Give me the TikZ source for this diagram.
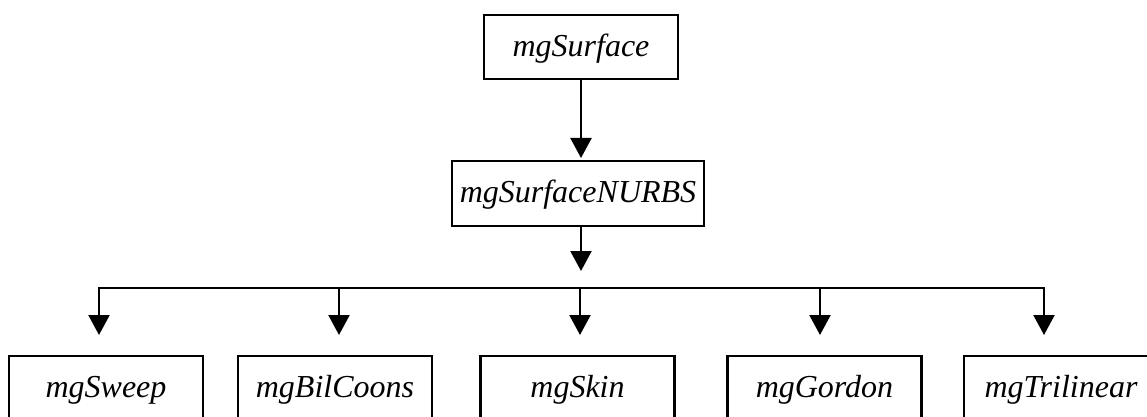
\documentclass[tikz,border=0pt]{standalone}
\usepackage{fontspec}
\setmainfont{Liberation Serif}
\usetikzlibrary{arrows.meta}
\begin{document}
\begin{tikzpicture}[x=0.5pt,y=-0.5pt,
  cls/.style={draw,line width=1.1pt,inner sep=0pt,
    font=\fontsize{16}{18}\selectfont\itshape},
  wideA/.style={cls,minimum width=97pt,minimum height=32pt,
    text height=0.94em,text depth=0em},
  wideB/.style={cls,minimum width=126pt,minimum height=32.5pt,
    text height=0.92em,text depth=0em},
  leaf/.style={cls,minimum width=97pt,minimum height=32.5pt,
    text height=0.91em,text depth=0em},
  link/.style={line width=1.1pt},
  inherit/.style={link,-{Triangle[width=10.5pt,length=10pt]}}]
\useasboundingbox (0,0) rectangle (1147,417);
\clip (0,0) rectangle (1147,417);
% class hierarchy
\node[wideA] (base) at (581,47) {mgSurface};
\node[wideB] (nurbs) at (578,193.5) {mgSurfaceNURBS};
\node[leaf] (sweep) at (106,388.5) {mgSweep};
\node[leaf] (bil) at (335,388.5) {mgBilCoons};
\node[leaf] (skin) at (577.5,388.5) {mgSkin};
\node[leaf] (gordon) at (824.5,388.5) {mgGordon};
\node[leaf] (tri) at (1061,388.5) {mgTrilinear};
% bus taps and arrow ends
\coordinate (split) at (581,271);
\coordinate (t1) at (99,288);
\coordinate (t2) at (339,288);
\coordinate (t3) at (580,288);
\coordinate (t4) at (820,288);
\coordinate (t5) at (1044,288);
\coordinate (e1) at (99,335);
\coordinate (e2) at (339,335);
\coordinate (e3) at (580,335);
\coordinate (e4) at (820,335);
\coordinate (e5) at (1044,335);
% connectors
\draw[inherit] (base.south -| split) -- (581,158);
\draw[inherit] (nurbs.south -| split) -- (split);
\draw[link,line cap=rect] (t1) -- (t5);
\foreach \i in {1,...,5} \draw[inherit] (t\i) -- (e\i);
\end{tikzpicture}
\end{document}
